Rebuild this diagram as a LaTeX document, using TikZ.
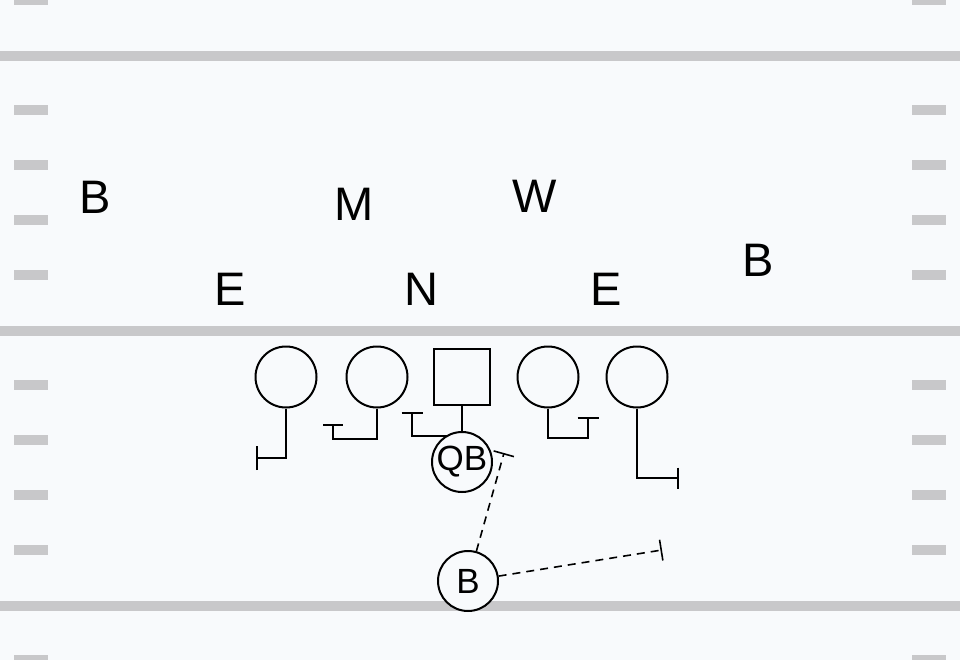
\documentclass[tikz,border=0pt]{standalone}
\usepackage{fontspec}
\setmainfont{Liberation Sans}
\usetikzlibrary{arrows.meta}
\definecolor{bgc}{RGB}{248,250,252}
\definecolor{linec}{RGB}{200,200,202}
\tikzset{
  yardline/.style={fill=linec, draw=none},
  hashmark/.style={fill=linec, draw=none},
  defender/.style={font=\fontsize{47}{47}\selectfont, inner sep=0pt},
  lineman/.style={circle, draw=black, line width=2pt, minimum size=61pt, inner sep=0pt, fill=bgc},
  center/.style={rectangle, draw=black, line width=2pt, minimum size=56pt, inner sep=0pt, fill=bgc},
  back/.style={circle, draw=black, line width=2pt, minimum size=60pt, inner sep=0pt, fill=bgc, font=\fontsize{35}{35}\selectfont},
  blockline/.style={draw=black, line width=2pt},
  routeline/.style={draw=black, line width=1.6pt, dash pattern=on 8pt off 6pt}
}
\begin{document}
\begin{tikzpicture}[x=1pt, y=-1pt]
\fill[bgc] (0,0) rectangle (960,660);
\useasboundingbox (0,0) rectangle (960,660);
% yard lines
\foreach \yy in {56,331,606} {
  \fill[yardline] (0,\yy-5) rectangle (960,\yy+5);
}
% hash marks
\foreach \yy in {0,110,165,220,275,385,440,495,550,660} {
  \fill[hashmark] (14,\yy-5) rectangle (48,\yy+5);
  \fill[hashmark] (912,\yy-5) rectangle (946,\yy+5);
}
% defenders
\node[defender] (bl) at (95,197) {B};
\node[defender] (m) at (354,204) {M};
\node[defender] (w) at (535,196) {W};
\node[defender] (br) at (758,260) {B};
\node[defender] (el) at (230,289) {E};
\node[defender] (n) at (421,289) {N};
\node[defender] (er) at (606,289) {E};
% end points
\coordinate (ltEnd) at (256,458);
\coordinate (lgEnd) at (333,424);
\coordinate (cEnd) at (412,412);
\coordinate (rgEnd) at (588,417);
\coordinate (rtEnd) at (679,478);
\coordinate (bqEnd) at (504,453);
\coordinate (bfEnd) at (662,550);
% offense
\node[lineman] (lt) at (286,377) {};
\node[lineman] (lg) at (377,377) {};
\node[center] (c) at (462,377) {};
\node[lineman] (rg) at (548,377) {};
\node[lineman] (rt) at (637,377) {};
\draw[blockline, -{Bar[width=24pt]}] (lt.south) |- (ltEnd);
\draw[blockline, -{Bar[width=20pt]}] (lg.south) |- (333,439) -- (lgEnd);
\draw[blockline, -{Bar[width=21pt]}] (c.south) |- (412,436) -- (cEnd);
\draw[blockline, -{Bar[width=21pt]}] (rg.south) |- (588,438) -- (rgEnd);
\draw[blockline, -{Bar[width=21pt]}] (rt.south) |- (rtEnd);
\node[back] (qb) at (462,462) {QB};
\node[back] (b) at (468,581) {B};
\draw[routeline, -{Bar[width=21pt, line width=1.6pt]}] (b) -- (bqEnd);
\draw[routeline, -{Bar[width=21pt, line width=1.6pt]}] (b) -- (bfEnd);
\end{tikzpicture}
\end{document}
